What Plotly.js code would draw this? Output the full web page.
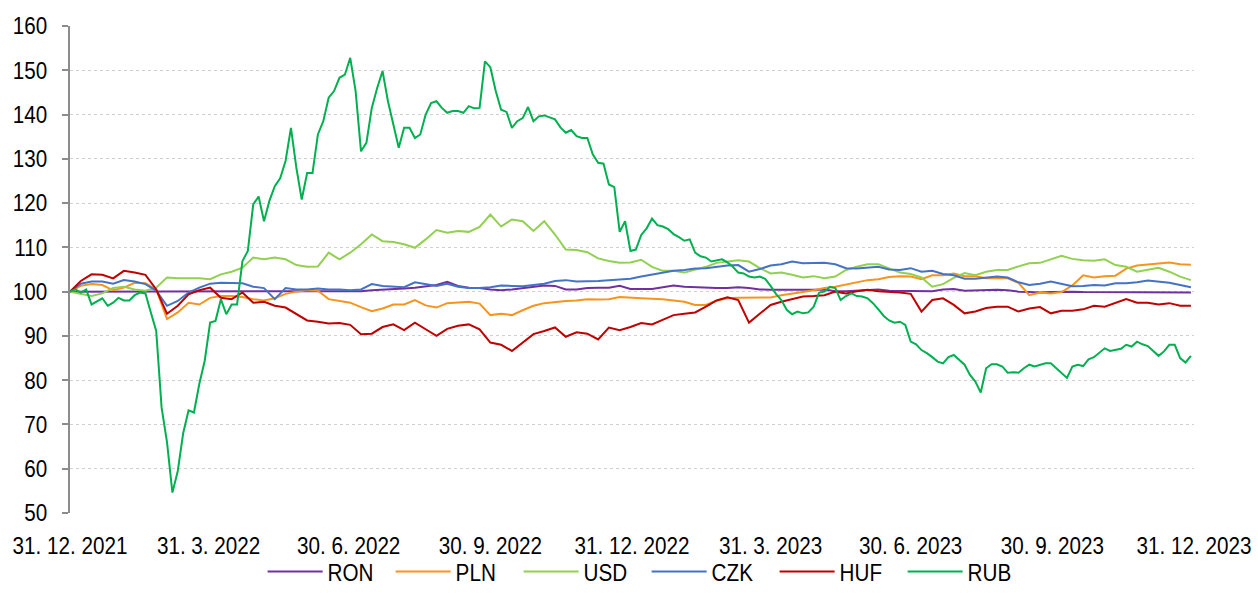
<!DOCTYPE html>
<html>
<head>
<meta charset="utf-8">
<script src="https://cdn.plot.ly/plotly-3.0.1.min.js"></script>
<style>
html,body{margin:0;padding:0;background:#fff;}
#chart{width:1258px;height:608px;}
</style>
</head>
<body>
<div id="chart"></div>
<script>
// Weekly series (start 31.12.2021, one value per week)
const startDate = '2021-12-31';
const seriesNames = ['RON','PLN','USD','CZK','HUF','RUB'];

const RON = [100,100,100,100,100,100,100,100,100,100,100,100,100,100,100,100,100,100,
  100,100,100,100,100,100,100.1,100.1,100.1,100.1,
  100.3,100.4,100.5,100.7,100.9,101.2,101.5,102.2,
  101.3,100.9,100.8,100.5,100.3,100.5,100.8,101.1,101.4,101.3,100.5,100.5,100.8,100.9,100.9,101.3,100.6,100.6,
  100.6,101,101.4,101.1,101,100.8,100.8,100.8,101,100.8,100.5,100.4,100.4,100.3,100.4,100.4,100.5,100.1,100.1,100.2,100.3,100.5,100.2,100.2,
  100.2,100.1,100.1,100.5,100.6,100.2,100.3,100.4,100.4,100.3,100,99.9,99.8,99.9,100,100,99.9,99.9,99.9,99.8,99.8,99.8,99.8,99.8,99.8,99.8,99.8];

const PLN = [100,101.3,101.7,101.5,100.3,100.9,102,101.9,100.5,93.8,95.3,97.5,97.1,98.6,99,99,98.8,98.3,
  98,98.5,99.5,100,100.3,100.2,98.3,97.9,97.5,96.5,95.6,96.2,97.1,97.1,98.1,96.9,96.4,97.4,
  97.6,97.7,97.3,94.7,95,94.7,95.8,96.8,97.4,97.7,97.9,98,98.3,98.2,98.3,98.8,98.6,98.5,
  98.4,98.3,98,97.7,97,97,98,98.5,98.6,98.6,98.6,98.7,99.2,99.5,99.9,100.3,100.8,101.1,101.6,102.2,102.6,102.8,103.3,103.5,
  103.4,102.8,103.7,103.7,104.1,103.5,103.5,103,103.1,103,102,99.2,99.8,99.6,99.9,101.4,103.7,103.2,103.5,103.6,105.2,105.9,106.1,106.3,106.6,106.2,106.1];

const USD = [100,99.5,99,99.6,100.8,101.1,100.5,100.2,100.9,103.2,103,103,103,102.8,103.9,104.5,105.4,107.7,
  107.3,107.7,107.3,106,105.6,105.7,108.8,107.3,108.8,110.7,112.9,111.4,111.2,110.7,109.9,111.8,113.9,113.3,
  113.7,113.5,114.6,117.4,114.7,116.3,115.9,113.7,115.9,112.9,109.5,109.4,108.9,107.5,106.9,106.5,106.6,107.2,
  105.6,104.7,104.7,104.3,104.9,105.6,106.5,106.8,107.1,106.8,105.3,104.1,104.3,103.8,103.2,103.5,103,103.4,104.9,105.6,106.2,106.2,105.3,104.3,
  104,103.2,101.1,101.7,103.1,104.2,103.7,104.5,104.9,104.9,105.7,106.4,106.5,107.3,108.1,107.4,107.1,107,107.3,106,105.6,104.5,104.9,105.4,104.5,103.4,102.6];

const CZK = [100,101.8,102.3,102.3,101.8,102.6,102.3,101.7,100.2,96.8,97.9,99.8,100.9,101.8,102,102,101.9,101.1,
  100.8,98.3,100.8,100.5,100.5,100.7,100.5,100.5,100.3,100.5,101.7,101.3,101.1,101,102.1,101.7,101.3,101.8,
  101.1,100.8,100.8,101,101.4,101.3,101.2,101.5,101.8,102.4,102.6,102.3,102.3,102.4,102.6,102.8,102.9,103.4,
  103.8,104.2,104.7,104.9,105.2,105.3,105.6,105.9,106,104.5,105.1,105.9,106.2,106.8,106.4,106.4,106.5,106.2,105.3,105.2,105.4,105.6,105,104.9,
  105.3,104.5,104.7,104,103.7,102.9,102.9,103.2,103.4,103.2,102.1,101.5,101.8,102.3,101.7,101.2,101.3,101.5,101.4,101.9,101.9,102.1,102.5,102.3,102,101.5,101];

const HUF = [100,102.4,103.9,103.8,103,104.7,104.3,103.8,100.5,95,96.8,99.4,100.3,100.9,98.6,98.3,99.8,97.5,
  97.7,96.8,96.4,94.9,93.5,93.2,92.8,92.9,92.5,90.4,90.5,92,92.6,91.3,93,91.5,90,91.6,
  92.3,92.6,91.5,88.5,88,86.6,88.5,90.4,91.1,91.9,89.8,90.8,90.5,89.2,91.9,91.3,92,92.9,
  92.6,93.6,94.7,95,95.3,96.6,98,98.7,98.1,93,95.1,97,97.7,98.3,98.9,99,99.2,100,99.6,100.1,100.4,100.1,100,99.8,
  99.5,95.5,98.1,98.5,97,95.1,95.5,96.3,96.6,96.6,95.5,96.2,96.5,95.1,95.7,95.7,96,96.8,96.6,97.4,98.3,97.5,97.5,97.1,97.4,96.8,96.8];

// RUB: two values per week (every 3.5 days)
const RUB = [100,100.5,99.8,100.5,97.1,97.9,98.5,96.8,97.5,98.6,98,98,99.2,99.8,99.6,95.3,91.1,
  73.8,66,54.6,59.5,68,73.2,72.7,79.2,84.4,93,93.4,98.3,94.9,97.1,97.1,106.9,109.2,119.7,121.5,
  115.9,120.5,123.8,125.6,129.5,137,128,120.8,126.8,126.8,135.5,138.5,143.8,145.3,148.3,149,152.8,145.3,131.7,133.6,141.5,146,149.8,143,138.1,132.5,137,137,134.7,135.5,140,142.6,143,141.5,140.4,
  140.8,140.8,140.4,141.9,141.4,141.5,152,150.7,145.3,141.1,140.6,137,138.5,139.2,141.7,138.5,139.6,139.8,139.4,138.9,137.1,135.9,136.5,135.1,134.7,134.7,131,129.1,128.9,124.2,123.6,113.5,115.9,109.2,109.5,
  112.8,114.3,116.5,115,114.7,114.1,113,112.3,111.5,111.8,108.8,108,107.7,106.8,107.1,107.3,106.6,105.6,104.3,104.1,103.4,103.2,103.4,102.9,101.3,99.5,98.1,95.9,94.9,95.5,95.1,95.3,96.6,99.8,100,101.1,100.8,98.1,99,99.6,99,98.9,98.5,97.4,96,94.5,93.5,93,93.2,92.5,88.7,88.1,86.8,
  86.1,85.2,84.2,83.8,85.2,85.7,84.6,83.5,81.2,79.7,77.2,82.7,83.6,83.6,83.1,81.7,81.8,81.7,82.7,83.5,83.1,83.5,83.8,83.8,82.7,81.6,80.5,83.1,83.5,83.2,84.7,85.2,86.1,87.2,86.6,86.8,87.1,88,87.6,88.7,88.1,87.7,86.7,85.5,86.5,88,88,85,84,85.5];

const tickDates = ['2021-12-31','2022-03-31','2022-06-30','2022-09-30','2022-12-31','2023-03-31','2023-06-30','2023-09-30','2023-12-31'];
const tickLabels = ['31. 12. 2021','31. 3. 2022','30. 6. 2022','30. 9. 2022','31. 12. 2022','31. 3. 2023','30. 6. 2023','30. 9. 2023','31. 12. 2023'];

const colors = {RON:'#7030A0', PLN:'#F7941D', USD:'#92D050', CZK:'#4472C4', HUF:'#C00000', RUB:'#00B050'};

function datesFor(n, stepDays){
  const t0 = Date.parse(startDate + 'T00:00:00Z');
  const out = [];
  for(let k=0;k<n;k++){
    out.push(new Date(t0 + k*stepDays*86400000).toISOString().slice(0,16).replace('T',' '));
  }
  return out;
}

const dataMap = {RON:RON, PLN:PLN, USD:USD, CZK:CZK, HUF:HUF, RUB:RUB};
const traces = seriesNames.map(name => {
  const vals = dataMap[name];
  const step = name === 'RUB' ? 3.5 : 7;
  return {
    type:'scatter', mode:'lines', name:name,
    x: datesFor(vals.length, step), y: vals,
    line:{color:colors[name], width:2},
    hoverinfo:'skip'
  };
});

const font = {family:'"Liberation Sans", Arial, sans-serif', size:24, color:'#000'};

const layout = {
  width:1258, height:608,
  margin:{l:70, r:64, t:26, b:95},
  paper_bgcolor:'#fff', plot_bgcolor:'#fff',
  font:font,
  showlegend:true,
  legend:{orientation:'h', x:0.513, xanchor:'center', y:-0.121, yanchor:'middle',
          font:font, itemwidth:55, entrywidth:58, traceorder:'normal',
          bgcolor:'rgba(0,0,0,0)'},
  xaxis:{type:'date', range:['2021-12-31','2023-12-31'],
         tickmode:'array', tickvals:tickDates, ticktext:tickLabels,
         showgrid:false, showline:false, zeroline:false, ticks:'',
         ticklabelstandoff:16, ticklabeloverflow:'allow', tickfont:font},
  yaxis:{range:[50,160], dtick:10, tick0:50,
         showgrid:true, gridcolor:'#d0d0d0', griddash:'dot', gridwidth:1,
         showline:true, linecolor:'#8c8c8c', linewidth:2,
         ticks:'outside', ticklen:6, tickcolor:'#8c8c8c', tickwidth:2,
         zeroline:false, ticklabelstandoff:10, tickfont:font}
};

// Condense the text horizontally to imitate the narrow typeface of the original
function finish(gd){
  gd.querySelectorAll('.xtick text, .ytick text, .legendtext').forEach(t => {
    const w = t.getComputedTextLength();
    if (w > 0) {
      t.setAttribute('textLength', (w * 0.86).toFixed(1));
      t.setAttribute('lengthAdjust', 'spacingAndGlyphs');
    }
  });
}

Plotly.newPlot('chart', traces, layout, {displayModeBar:false, staticPlot:true}).then(finish);
</script>
</body>
</html>
